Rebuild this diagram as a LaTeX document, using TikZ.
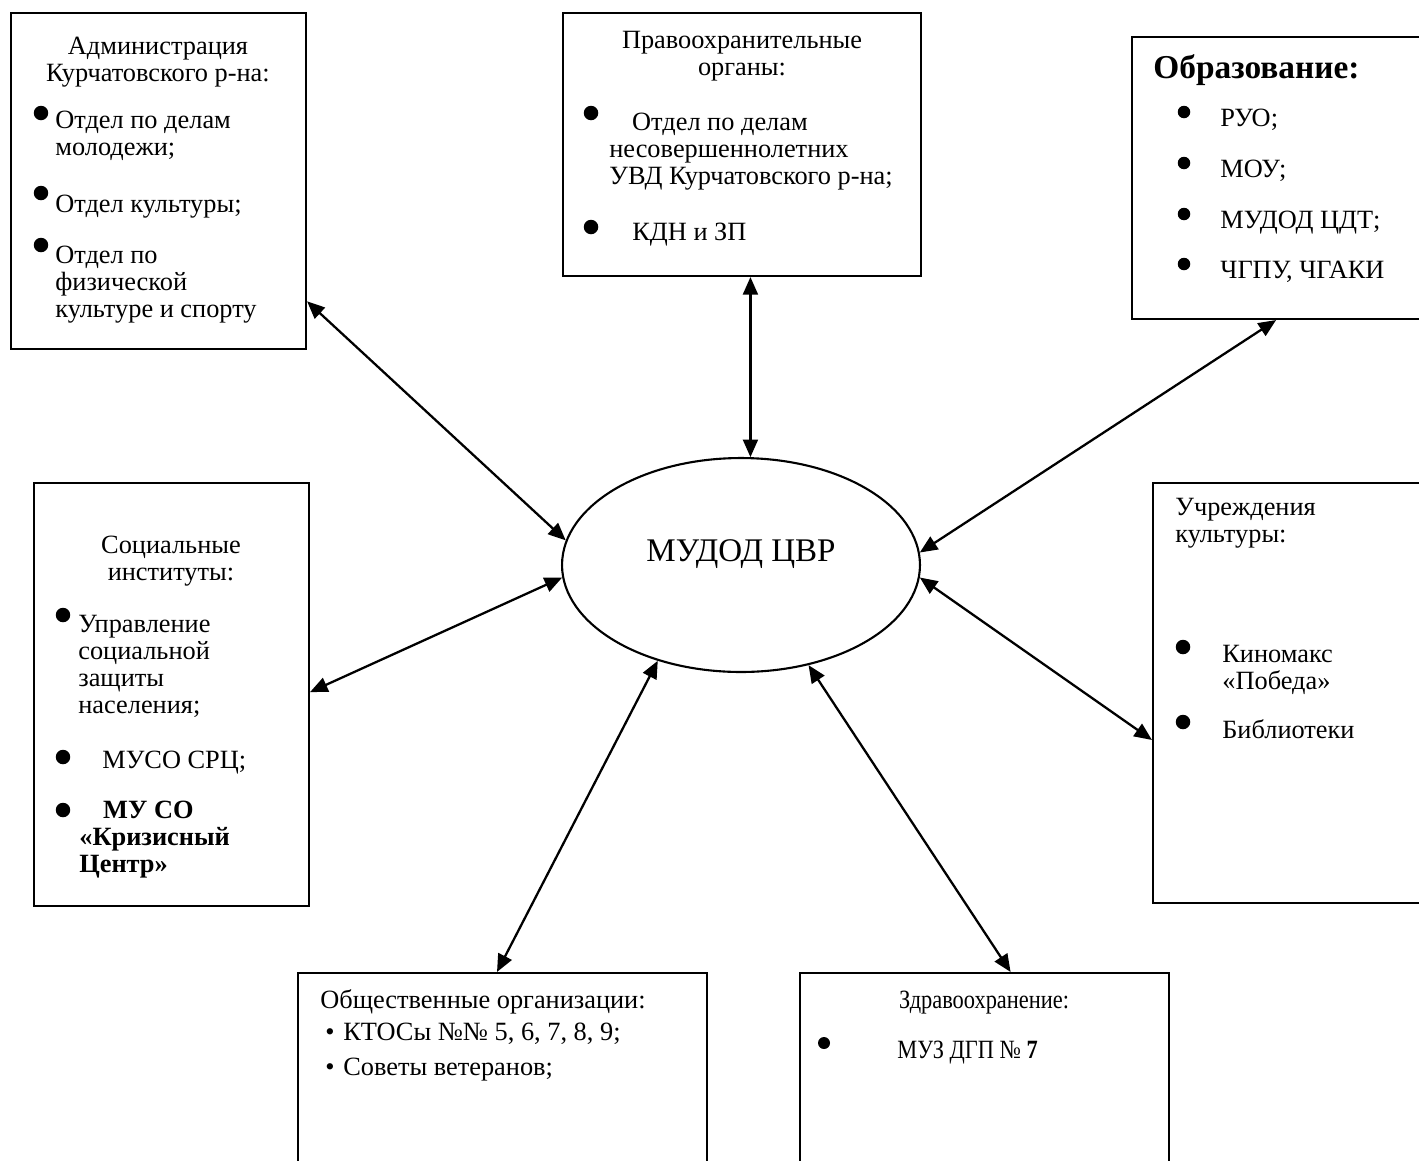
\documentclass[tikz,border=0pt]{standalone}
\usepackage{fontspec}
\usepackage{graphicx}
\setmainfont{Liberation Serif}
\usetikzlibrary{arrows.meta,shapes.geometric,fit}

\begin{document}
\begin{tikzpicture}[x=0.02cm,y=-0.02cm,
	box/.style={draw,line width=1.2pt,inner sep=0pt},
	txt/.style={inner sep=0pt,font=\fontsize{15}{15.3}\selectfont,align=left},
	blt/.style={circle,fill,inner sep=0pt,minimum size=0.29cm},
	conn/.style={line width=1.3pt,{Triangle[length=10pt,width=8.5pt]}-{Triangle[length=10pt,width=8.5pt]}}]
	\useasboundingbox (0,0) rectangle (1419,1160);
	%BOXES
	\node[box,fit={(11,13) (306,349)}] (adm) {};
	\node[box,fit={(563,13) (921,276)}] (prav) {};
	\node[box,fit={(1132,37) (1440,319)}] (obr) {};
	\node[box,fit={(34,483) (309,906)}] (soc) {};
	\node[box,fit={(1153,483) (1440,903)}] (cul) {};
	\node[box,fit={(298,973) (707,1180)}] (obs) {};
	\node[box,fit={(800,973) (1169,1180)}] (zdr) {};
	\node[draw,ellipse,line width=1.2pt,inner sep=0pt,minimum width=7.16cm,minimum height=4.28cm] (cvr) at (741,565) {};
	\node[txt,anchor=base,font=\fontsize{18.8}{22}\selectfont] (cvrt) at (741,561) {МУДОД ЦВР};
	%ADMINISTRATION (base = last line)
	\node[txt,anchor=base,align=center] (admt) at (158,81) {Администрация\\Курчатовского р-на:};
	\foreach \y [count=\i] in {113,193,245} \node[blt] (admb\i) at (41,\y) {};
	\node[txt,anchor=base west] (adm1) at (55,155) {Отдел по делам\\молодежи;};
	\node[txt,anchor=base west] (adm2) at (55,212) {Отдел культуры;};
	\node[txt,anchor=base west] (adm3) at (55,317) {Отдел по\\физической\\культуре и спорту};
	%LAW
	\node[txt,anchor=base,align=center] (pravt) at (742,75) {Правоохранительные\\органы:};
	\foreach \y [count=\i] in {113,227} \node[blt] (pravb\i) at (591,\y) {};
	\node[txt,anchor=base west] (prav1) at (609,184) {\hspace*{13pt}Отдел по делам\\несовершеннолетних\\УВД Курчатовского р-на;};
	\node[txt,anchor=base west] (prav2) at (632,240) {КДН и ЗП};
	%EDUCATION
	\node[txt,anchor=base west,font=\fontsize{19}{21}\selectfont\bfseries] (obrt) at (1153,78) {Образование:};
	\foreach \t/\y [count=\i] in {РУО;/126,МОУ;/177,МУДОД ЦДТ;/228,{ЧГПУ, ЧГАКИ}/278} {
		\node[blt,minimum size=0.25cm] (obrb\i) at (1184,\y-14) {};
		\node[txt,anchor=base west] (obr\i) at (1220,\y) {\t};
	}
	%SOCIAL
	\node[txt,anchor=base,align=center] (soct) at (171,580) {Социальные\\институты:};
	\foreach \y [count=\i] in {615,757,810} \node[blt] (socb\i) at (63,\y) {};
	\node[txt,anchor=base west] (soc1) at (78,713) {Управление\\социальной\\защиты\\населения;};
	\node[txt,anchor=base west] (soc2) at (102,768) {МУСО СРЦ;};
	\node[txt,anchor=base west,font=\fontsize{15}{15.3}\selectfont\bfseries] (soc3) at (79,872) {\hspace*{13.6pt}МУ СО\\«Кризисный\\Центр»};
	%CULTURE
	\node[txt,anchor=base west] (cult) at (1175,542) {Учреждения\\культуры:};
	\foreach \y [count=\i] in {647,722} \node[blt] (culb\i) at (1183,\y) {};
	\node[txt,anchor=base west] (cul1) at (1222,689) {Киномакс\\«Победа»};
	\node[txt,anchor=base west] (cul2) at (1222,738) {Библиотеки};
	%PUBLIC
	\node[txt,anchor=base west] (obst) at (320,1008) {Общественные организации:};
	\node[txt,anchor=base west,font=\fontsize{15}{19.8}\selectfont] (obs1) at (325,1075) {\makebox[10.2pt][l]{•}КТОСы №№ 5, 6, 7, 8, 9;\\\makebox[10.2pt][l]{•}Советы ветеранов;};
	%HEALTH
	\node[txt,anchor=base] (zdrt) at (984,1008) {\scalebox{0.85}[1]{Здравоохранение:}};
	\node[blt,minimum size=0.24cm] (zdrb1) at (824,1043) {};
	\node[txt,anchor=base west] (zdr1) at (897,1058) {\scalebox{0.85}[1]{МУЗ ДГП № \textbf{7}}};
	%ARROWS
	\draw[conn] (adm.-39.4) -- (cvr.172);
	\draw[conn] (cvr.85 |- prav.south) -- (cvr.85);
	\draw[conn] (obr.-94.5) -- (cvr.4);
	\draw[conn] (soc.1.9) -- (cvr.184);
	\draw[conn] (cul.198.1) -- (cvr.-4);
	\draw[conn] (obs.93) -- (cvr.229.7);
	\draw[conn] (zdr.76.2) -- (cvr.304.4);
\end{tikzpicture}
\end{document}
